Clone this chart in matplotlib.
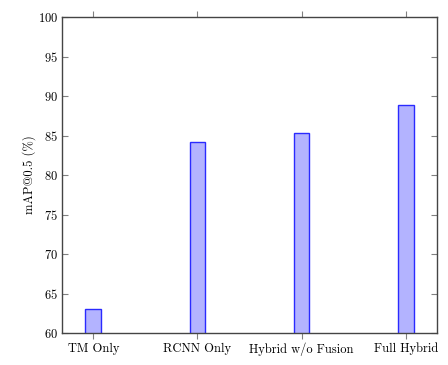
import matplotlib

matplotlib.use("Agg")
import matplotlib.pyplot as plt
import numpy as np

plt.rcParams.update({"font.family": "serif", "font.serif": ["cmr10", "DejaVu Serif"]})
plt.rcParams.update({"mathtext.fontset": "cm", "axes.formatter.use_mathtext": True})
plt.rcParams.update({"font.size": 9})

methods = ["TM Only", "RCNN Only", "Hybrid w/o Fusion", "Full Hybrid"]
map50 = [63.1, 84.2, 85.3, 88.9]
y_ticks = [60, 65, 70, 75, 80, 85, 90, 95, 100]

fig = plt.figure(figsize=(4.48, 3.65), dpi=100)
ax = fig.add_axes([62 / 448, 32 / 365, 375 / 448, 316 / 365])

x = np.arange(len(methods))
ax.bar(x, map50, width=0.15, bottom=0, color="#b3b3ff", edgecolor="#2a2aff",
       linewidth=1.0)

ax.set_xlim(-0.3, 3.3)
ax.set_ylim(60, 100)
ax.set_xticks(x)
ax.set_xticklabels(methods)
ax.set_yticks(y_ticks)
ax.set_ylabel("mAP@0.5 (%)")
ax.yaxis.set_label_coords(-0.07, 0.5)

ax.tick_params(axis="x", direction="out", top=True, length=4, color="#808080",
               pad=3)
ax.tick_params(axis="y", direction="in", right=True, length=4, color="#808080",
               pad=3)
for s in ax.spines.values():
    s.set_color("#444444")
    s.set_linewidth(1.0)

fig.savefig("out.png", dpi=100)
